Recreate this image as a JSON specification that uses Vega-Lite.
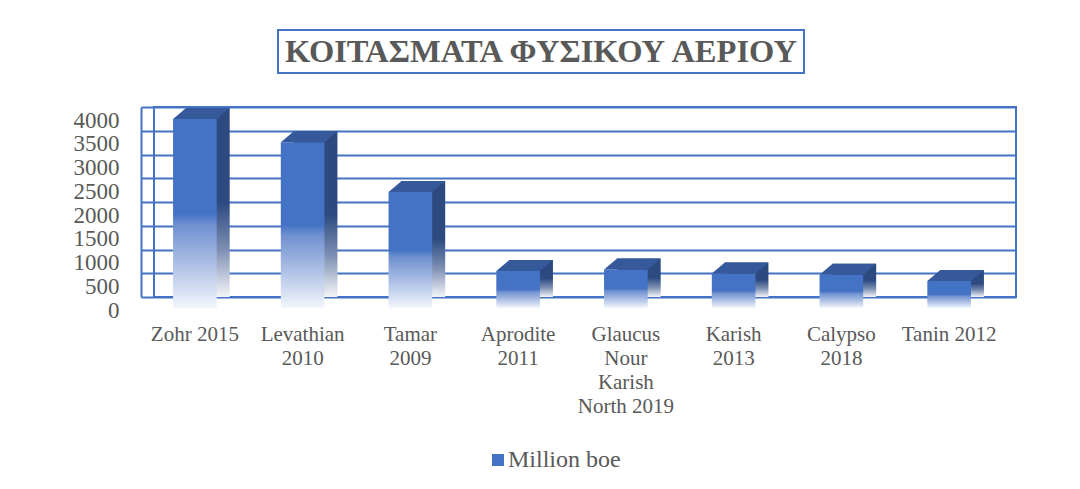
{
  "$schema": "https://vega.github.io/schema/vega-lite/v6.json",
  "padding": {"left": 72, "top": 29, "right": 0, "bottom": 0},
  "config": {"font": "Liberation Serif"},
  "spacing": 30,
  "datasets": {
    "fields": [
      {"field": "Zohr 2015", "boe": 3980},
      {"field": "Levathian 2010", "boe": 3490},
      {"field": "Tamar 2009", "boe": 2440},
      {"field": "Aprodite 2011", "boe": 780},
      {"field": "Glaucus Nour Karish North 2019", "boe": 810},
      {"field": "Karish 2013", "boe": 725},
      {"field": "Calypso 2018", "boe": 700},
      {"field": "Tanin 2012", "boe": 570}
    ]
  },
  "vconcat": [
    {
      "spacing": 0,
      "hconcat": [
        {
          "width": 123,
          "height": 43,
          "view": {"stroke": null},
          "data": {"values": [{"blank": ""}]},
          "mark": {"type": "text"},
          "encoding": {"text": {"field": "blank"}}
        },
        {
          "width": 526,
          "height": 43,
          "view": {"stroke": "#4472C4", "strokeWidth": 2},
          "data": {"values": [{"title": "ΚΟΙΤΑΣΜΑΤΑ ΦΥΣΙΚΟΥ ΑΕΡΙΟΥ"}]},
          "mark": {"type": "text", "font": "Liberation Serif", "fontWeight": "bold", "fontSize": 32.5, "color": "#595959", "baseline": "middle", "align": "center"},
          "encoding": {"text": {"field": "title"}}
        }
      ]
    },
    {
      "width": 862,
      "height": 190,
      "view": {"stroke": "#4472C4", "strokeWidth": 2},
      "data": {"name": "fields"},
      "encoding": {
        "x": {
          "field": "field", "type": "nominal", "sort": null,
          "scale": {"paddingInner": 0.595, "paddingOuter": 0.2975},
          "axis": {
            "title": null, "domain": false, "ticks": false, "tickSize": 0, "grid": false,
            "labelAngle": 0, "labelPadding": 26, "labelOffset": -13,
            "labelFont": "Liberation Serif", "labelFontSize": 21, "labelColor": "#595959",
            "labelLineHeight": 24, "labelLimit": 300,
            "labelExpr": "datum.value == 'Glaucus Nour Karish North 2019' ? ['Glaucus', 'Nour', 'Karish', 'North 2019'] : ((datum.value == 'Zohr 2015' || datum.value == 'Tanin 2012') ? datum.value : split(datum.value, ' '))"
          }
        },
        "y": {
          "field": "boe", "type": "quantitative",
          "scale": {"domain": [0, 4000], "nice": false},
          "axis": {
            "title": null, "values": [0, 500, 1000, 1500, 2000, 2500, 3000, 3500, 4000], "format": "d",
            "grid": true, "gridColor": "#4472C4", "gridWidth": 2, "gridOpacity": 1,
            "domainColor": "#4472C4", "domainWidth": 2,
            "tickColor": "#4472C4", "tickWidth": 2, "tickSize": -13,
            "offset": 13, "labelPadding": 35, "labelOffset": 13,
            "labelFont": "Liberation Serif", "labelFontSize": 23, "labelColor": "#595959",
            "encode": {
              "ticks": {"update": {"y": {"scale": "y", "field": "value", "offset": 11}, "y2": {"scale": "y", "field": "value"}}},
              "domain": {"update": {"y": {"scale": "y", "value": 4000, "offset": 11}, "y2": {"scale": "y", "value": 0, "offset": 11}}}
            }
          }
        }
      },
      "layer": [
        {
          "mark": {
            "type": "bar", "y2Offset": 11,
            "fill": {"gradient": "linear", "x1": 0, "y1": 0, "x2": 0, "y2": 1,
              "stops": [{"offset": 0, "color": "#2C4A80"}, {"offset": 0.5, "color": "#2C4A80"}, {"offset": 0.75, "color": "#7d8fb3"}, {"offset": 1, "color": "#f4f5f8"}]}
          }
        },
        {
          "mark": {
            "type": "bar", "xOffset": -13, "yOffset": 11, "y2Offset": 11,
            "fill": {"gradient": "linear", "x1": 0, "y1": 0, "x2": 0, "y2": 1,
              "stops": [{"offset": 0, "color": "#4472C4"}, {"offset": 0.5, "color": "#4472C4"}, {"offset": 0.56, "color": "#6f90d0"}, {"offset": 0.8, "color": "#b5c6e8"}, {"offset": 1, "color": "#f3f6fc"}]}
          }
        },
        {
          "mark": {
            "type": "point", "filled": true, "opacity": 1, "color": "#35599B", "strokeWidth": 0,
            "shape": "M -0.51 -0.1833 L 0.9433 -0.1833 L 0.51 0.1833 L -0.9433 0.1833 Z",
            "size": 3600, "xOffset": -6.5, "yOffset": 5.5
          }
        },
        {
          "mark": {"type": "point", "filled": true, "opacity": 0, "shape": "square"},
          "encoding": {
            "color": {
              "datum": "Million boe", "type": "nominal",
              "scale": {"range": ["#4472C4"]},
              "legend": {
                "orient": "none", "legendX": 332, "legendY": 418, "title": null, "symbolType": "square", "symbolSize": 144,
                "symbolOpacity": 1, "symbolStrokeWidth": 0, "labelOffset": -2,
                "labelFont": "Liberation Serif", "labelFontSize": 24, "labelColor": "#595959"
              }
            }
          }
        }
      ]
    }
  ]
}
